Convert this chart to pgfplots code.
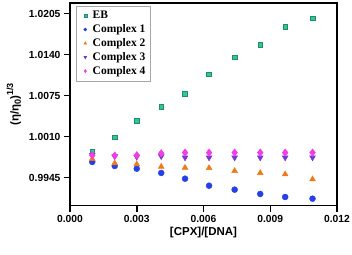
\documentclass[border=0pt]{standalone}
\usepackage{fontspec}
\setmainfont{Liberation Sans}
\newfontfamily\legfont{Liberation Serif}
\usepackage{pgfplots}
\pgfplotsset{compat=1.18}
\definecolor{ebg}{HTML}{2FC79A}
\definecolor{ebd}{HTML}{1B8F6C}
\definecolor{c1}{HTML}{2440E6}
\definecolor{c2}{HTML}{F07A18}
\definecolor{c3}{HTML}{7636D2}
\definecolor{c4}{HTML}{F23CE6}
\begin{document}
\begin{tikzpicture}
\begin{axis}[
  scale only axis, width=267pt, height=202.5pt,
  xmin=0, xmax=0.012, ymin=0.99009, ymax=1.0222,
  axis line style={line width=1.5pt},
  tick style={line width=1.5pt, black},
  major tick length=6pt,
  tick align=outside, xtick pos=bottom, ytick pos=left,
  scaled ticks=false,
  xtick={0,0.003,0.006,0.009,0.012},
  xticklabels={0.000,0.003,0.006,0.009,0.012},
  ytick={0.9945,1.0010,1.0075,1.0140,1.0205},
  yticklabels={0.9945,1.0010,1.0075,1.0140,1.0205},
  ticklabel style={font=\bfseries\fontsize{10.3}{12}\selectfont},
  xlabel={\bfseries [CPX]/[DNA]},
  ylabel={\bfseries(η/η\raisebox{-0.35ex}{\small 0})\raisebox{0.9ex}{\small 1/3}},
  label style={font=\bfseries\fontsize{11.5}{13}\selectfont},
  xlabel style={yshift=2pt},
  ylabel style={yshift=1pt},
  legend style={at={(0.0225,0.985)}, anchor=north west, draw=gray!70, line width=0.6pt,
    font=\legfont\bfseries\fontsize{11.5}{13}\selectfont, row sep=0.4pt, inner xsep=3pt, inner ysep=3pt},
  legend cell align=left,
  legend image post style={mark size=1.5pt},
  legend image code/.code={\path (0cm,0cm) (0.38cm,0cm); \draw[#1] plot coordinates {(0.2cm,0cm)};},
]
\addplot[only marks, mark=square*, mark size=2.4pt, mark options={fill=ebg, draw=ebg!70!black, line width=0.4pt}] coordinates {
(0.00100,0.9986) (0.00201,1.00091) (0.00300,1.0036) (0.00410,1.00571) (0.00517,1.0078)
(0.00625,1.0109) (0.00740,1.0136) (0.00855,1.0156) (0.00967,1.0184) (0.01090,1.0198)};
\addlegendentry{EB}
\addplot[only marks, mark=*, mark size=3pt, mark options={fill=c1, draw=c1}] coordinates {
(0.00100,0.99699) (0.00201,0.99636) (0.00300,0.99593) (0.00410,0.99525) (0.00517,0.99434)
(0.00625,0.99323) (0.00740,0.9926) (0.00855,0.99192) (0.00967,0.99144) (0.01090,0.99117)};
\addlegendentry{Complex 1}
\addplot[only marks, mark=triangle*, mark size=3.4pt, mark options={fill=c2, draw=c2}] coordinates {
(0.00100,0.99747) (0.00201,0.99679) (0.00300,0.99663) (0.00410,0.99625) (0.00517,0.99609)
(0.00625,0.99604) (0.00740,0.99557) (0.00855,0.99525) (0.00967,0.99504) (0.01090,0.99425)};
\addlegendentry{Complex 2}
\addplot[only marks, mark=triangle*, mark size=3.4pt, mark options={rotate=180, fill=c3, draw=c3}] coordinates {
(0.00100,0.9981) (0.00201,0.9979) (0.00300,0.9978) (0.00410,0.9979) (0.00517,0.9977)
(0.00625,0.9977) (0.00740,0.9977) (0.00855,0.9977) (0.00967,0.9977) (0.01090,0.9977)};
\addlegendentry{Complex 3}
\addplot[only marks, mark=diamond*, mark size=3.8pt, mark options={fill=c4, draw=c4}] coordinates {
(0.00100,0.99805) (0.00201,0.9980) (0.00300,0.99805) (0.00410,0.99837) (0.00517,0.99847)
(0.00625,0.99847) (0.00740,0.99847) (0.00855,0.99847) (0.00967,0.99847) (0.01090,0.99847)};
\addlegendentry{Complex 4}
\end{axis}
\pgfresetboundingbox
\path (current axis.south west) ++(-70pt,-48.5pt) rectangle ++(352pt,254pt);
\end{tikzpicture}
\end{document}
